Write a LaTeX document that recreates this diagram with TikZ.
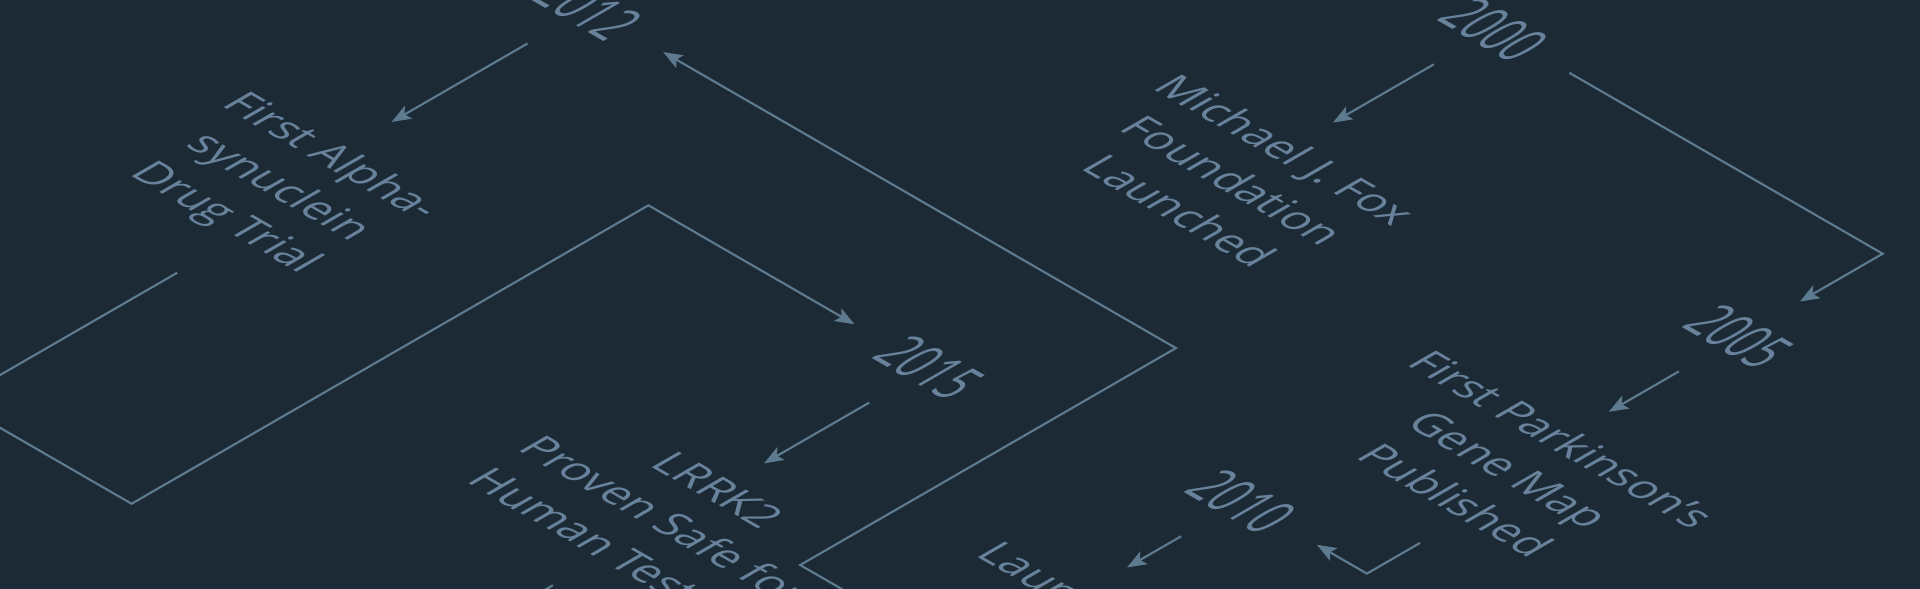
\documentclass[tikz,border=0pt]{standalone}
\usepackage{fontspec}
\setmainfont{Open Sans}
\usepackage{xcolor}
\usepackage{tikz}
\usetikzlibrary{arrows.meta}
\definecolor{bgnavy}{HTML}{1B2A35}
\definecolor{slateline}{HTML}{5E7A8E}
\definecolor{slatetext}{HTML}{67829A}

\begin{document}
\begin{tikzpicture}[x={(0.00866cm,-0.005cm)}, y={(0.00866cm,0.005cm)},
	iso/.style={cm={0.866,-0.5,0.866,0.5,(0,0)}},
	yr/.style={iso, xscale=0.58, inner sep=0pt, outer xsep=0.6cm, outer ysep=0.37cm, text=slatetext, font=\fontsize{15.5}{18}\selectfont},
	desc/.style={iso, anchor=north, align=center, inner sep=0pt, outer sep=0.3cm, text=slatetext, font=\fontsize{10.2}{14.2}\selectfont},
	arr/.style={draw=slateline, line width=0.5pt, -{Stealth[length=4.5pt,width=3.4pt,inset=1pt]}},
	link/.style={draw=slateline, line width=0.5pt}]
	\fill[bgnavy] (0cm,0cm) rectangle (15.68cm,-4.81cm);
	\clip (0cm,0cm) rectangle (15.68cm,-4.81cm);
	
	\node[yr] (y2000) at (728,680) {2000};
	\node[yr] (y2005) at (1094,545) {2005};
	\node[yr] (y2010) at (994,176) {2010};
	\node[yr] (y2012) at (284,270) {2012};
	\node[yr] (y2015) at (738,138) {2015};
	
	\node[desc] (e2000) at (728,528) {Michael\hspace{0.3em}J. Fox\\Foundation\\Launched};
	\node[desc] (e2005) at (1094,422) {First Parkinson’s\\Gene Map\\Published};
	\node[desc, outer sep=0.35cm] (e2010) at (994,68) {Launched};
	\node[desc, outer sep=0.4cm] (e2012) at (284,85) {First Alpha-\\synuclein\\Drug Trial};
	\node[desc] (e2015) at (738,-18) {LRRK2\\Proven Safe for\\Human Testing};
	
	\coordinate (d2005) at (1112,226);
	\coordinate (d2010) at (1020,-37);
	\coordinate (d2012) at (306,-139);
	\coordinate (d2015) at (738,-217);
	\coordinate (d2015end) at (738,-330);
	
	\draw[arr] (y2000) -- (1094,680) -- (y2005);
	\draw[arr] (d2005) -- (1112,176) -- (y2010);
	\draw[arr] (d2010) -- (1020,-84) -- (838,-84) -- (838,270) -- (y2012);
	\draw[arr] (d2012) -- (306,-349) -- (473,-349) -- (473,138) -- (y2015);
	\draw[link] (d2015) -- (d2015end);
	
	\foreach \t in {2000,2005,2010,2012,2015}{
		\draw[arr] (y\t) -- (e\t);
	}
\end{tikzpicture}
\end{document}
